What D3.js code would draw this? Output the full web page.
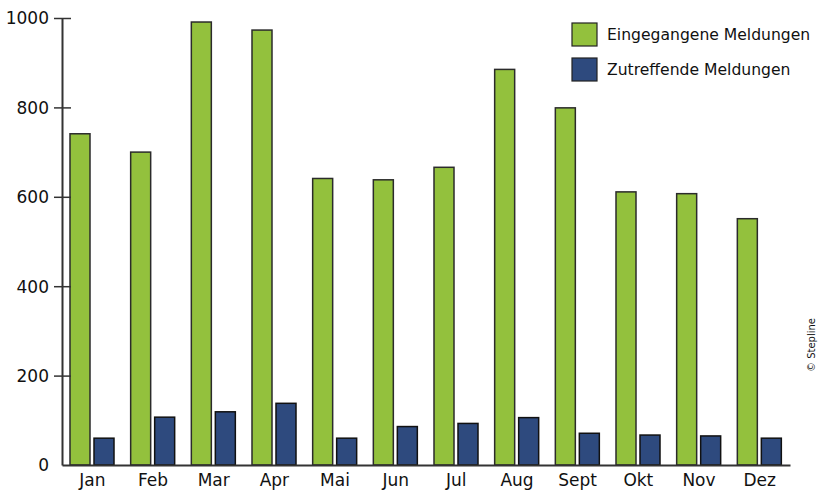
<!DOCTYPE html>
<html>
<head>
<meta charset="utf-8">
<script src="https://cdn.jsdelivr.net/npm/d3@7"></script>
<style>
  body { margin: 0; background: #fff; }
  text { font-family: "DejaVu Sans", sans-serif; fill: #111; }
</style>
</head>
<body>
<svg id="chart"></svg>
<script>
var w = 819;
var h = 491;

var months = ["Jan", "Feb", "Mar", "Apr", "Mai", "Jun", "Jul", "Aug", "Sept", "Okt", "Nov", "Dez"];
var eingegangen = [741, 700, 991, 973, 641, 638, 666, 885, 799, 611, 607, 551];
var zutreffend = [60, 107, 119, 138, 60, 86, 93, 106, 71, 67, 65, 60];
var seriesNames = ["Eingegangene Meldungen", "Zutreffende Meldungen"];
var seriesColors = ["#93c13d", "#2e4a7e"];
var yTicks = [0, 200, 400, 600, 800, 1000];

var svg = d3.select("#chart").attr("width", w).attr("height", h);

var x = d3.scaleBand().domain(months).range([62, 790]).paddingInner(0).paddingOuter(0);
var y = d3.scaleLinear().domain([0, 1000]).range([465, 18]);

// bars
var groups = svg.append("g").selectAll("g")
  .data(months)
  .enter().append("g")
  .attr("transform", function(d) { return "translate(" + x(d) + ",0)"; });

groups.append("rect")
  .attr("x", 8)
  .attr("width", 20)
  .attr("y", function(d, i) { return y(eingegangen[i]); })
  .attr("height", function(d, i) { return y(0) - y(eingegangen[i]); })
  .attr("fill", seriesColors[0])
  .attr("stroke", "#2b2b2b")
  .attr("stroke-width", 1.5);

groups.append("rect")
  .attr("x", 32)
  .attr("width", 20)
  .attr("y", function(d, i) { return y(zutreffend[i]); })
  .attr("height", function(d, i) { return y(0) - y(zutreffend[i]); })
  .attr("fill", seriesColors[1])
  .attr("stroke", "#111")
  .attr("stroke-width", 1.5);

// y axis
var yAxis = d3.axisLeft(y).tickValues(yTicks).tickFormat(d3.format("d"))
  .tickSizeInner(8).tickSizeOuter(0).tickPadding(5);
var gY = svg.append("g").attr("transform", "translate(62,0)").call(yAxis);
gY.select(".domain").attr("stroke", "#333").attr("stroke-width", 2);
gY.selectAll(".tick line").attr("stroke", "#333").attr("stroke-width", 1.5).attr("x2", 9).attr("x1", -8);
gY.selectAll(".tick").filter(function(d) { return d === 0; }).select("line").remove();
gY.selectAll(".tick text").style("font-size", "17px").style("font-family", "DejaVu Sans, sans-serif")
  .attr("fill", "#111").attr("dy", "0.35em");

// x axis
var xAxis = d3.axisBottom(x).tickSize(0).tickPadding(9);
var gX = svg.append("g").attr("transform", "translate(0,465)").call(xAxis);
gX.select(".domain").attr("stroke", "#333").attr("stroke-width", 2);
gX.selectAll(".tick text").style("font-size", "17px").style("font-family", "DejaVu Sans, sans-serif").attr("fill", "#111");

// legend
var legend = svg.append("g").attr("transform", "translate(572,23)");
var items = legend.selectAll("g").data(seriesNames).enter().append("g")
  .attr("transform", function(d, i) { return "translate(0," + (i * 35) + ")"; });
items.append("rect")
  .attr("width", 25).attr("height", 23)
  .attr("fill", function(d, i) { return seriesColors[i]; })
  .attr("stroke", "#222").attr("stroke-width", 1.2);
items.append("text")
  .attr("x", 35).attr("y", 17)
  .style("font-size", "15.6px")
  .text(function(d) { return d; });

// copyright
svg.append("text")
  .attr("transform", "translate(815,372) rotate(-90)")
  .style("font-size", "10px")
  .text("© Stepline");
</script>
</body>
</html>
